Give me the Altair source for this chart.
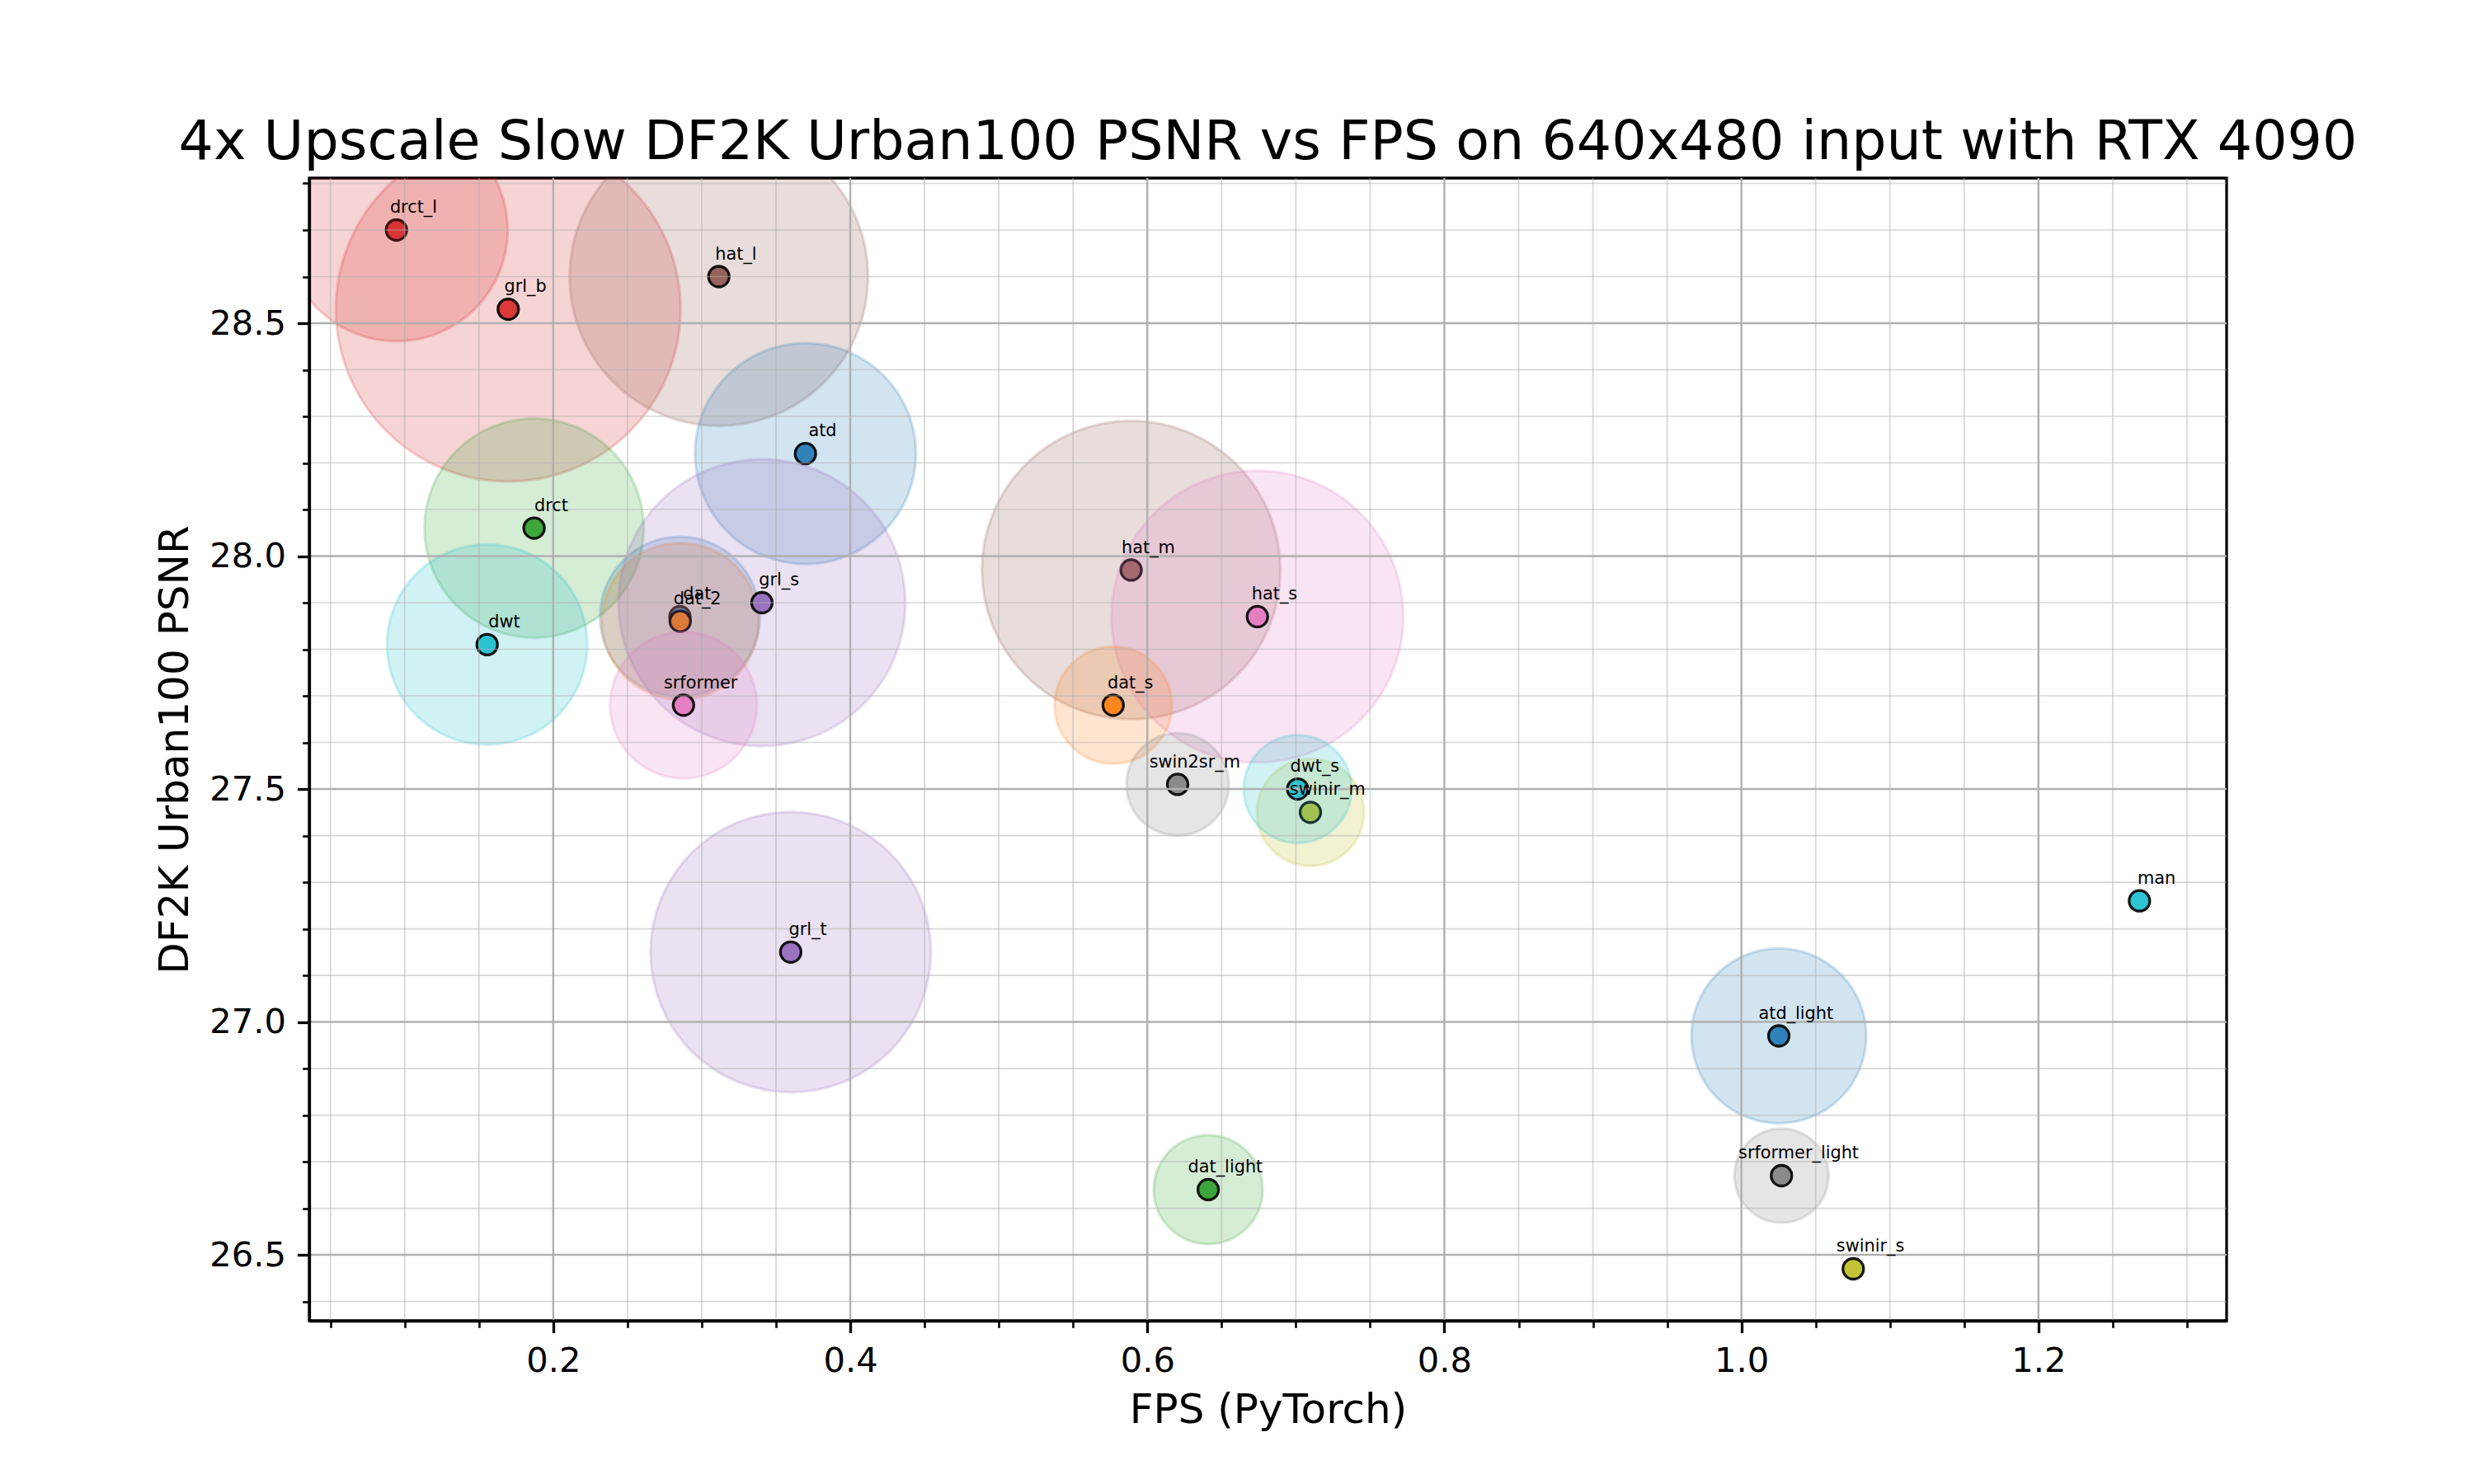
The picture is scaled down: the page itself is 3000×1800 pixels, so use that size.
import altair as alt
import pandas as pd

# Models, throughput (FPS, PyTorch) and DF2K-trained Urban100 PSNR (dB)
models = ["drct_l", "grl_b", "hat_l", "atd", "drct", "dwt", "dat", "dat_2", "grl_s",
          "srformer", "hat_m", "hat_s", "dat_s", "swin2sr_m", "swinir_m", "dwt_s",
          "grl_t", "man", "atd_light", "dat_light", "srformer_light", "swinir_s"]
fps = [0.0944, 0.1697, 0.3115, 0.3698, 0.1871, 0.1555, 0.2853, 0.2855, 0.3405,
       0.2877, 0.5891, 0.6741, 0.5770, 0.6204, 0.7098, 0.7012,
       0.3599, 1.2680, 1.0252, 0.6410, 1.0270, 1.0753]
psnr = [28.70, 28.53, 28.60, 28.22, 28.06, 27.81, 27.87, 27.86, 27.90,
        27.68, 27.97, 27.87, 27.68, 27.51, 27.45, 27.50,
        27.15, 27.26, 26.97, 26.64, 26.67, 26.47]
# bubble area (pt^2) drawn around each model
bubble = [4199, 10064, 7548, 4137, 4076, 3401, 2168, 2079, 6975,
          1825, 7548, 7218, 1161, 886, 973, 988,
          6659, 0, 2589, 1004, 749, 0]

# tick positions
major_x = [0.2, 0.4, 0.6, 0.8, 1.0, 1.2]
minor_x = [0.05, 0.10, 0.15, 0.25, 0.30, 0.35, 0.45, 0.50, 0.55, 0.65, 0.70, 0.75,
           0.85, 0.90, 0.95, 1.05, 1.10, 1.15, 1.25, 1.30]
major_y = [26.5, 27.0, 27.5, 28.0, 28.5]
minor_y = [26.4, 26.6, 26.7, 26.8, 26.9, 27.1, 27.2, 27.3, 27.4, 27.6, 27.7, 27.8, 27.9,
           28.1, 28.2, 28.3, 28.4, 28.6, 28.7, 28.8]

TAB = {"blue": "#1f77b4", "orange": "#ff7f0e", "green": "#2ca02c", "red": "#d62728",
       "purple": "#9467bd", "brown": "#8c564b", "pink": "#e377c2", "gray": "#7f7f7f",
       "olive": "#bcbd22", "cyan": "#17becf"}
model_colors = [TAB[c] for c in [
    "red", "red", "brown", "blue", "green", "cyan", "blue", "orange", "purple",
    "pink", "brown", "pink", "orange", "gray", "olive", "cyan",
    "purple", "cyan", "blue", "green", "gray", "olive"]]

FONT = "DejaVu Sans"
PT = 300 / 72  # pixels per point

# each model contributes a translucent bubble followed by its centre dot
rows = []
for i, m in enumerate(models):
    for k, kind in enumerate(["bubble", "dot"]):
        rows.append({"model": m, "fps": fps[i], "psnr": psnr[i], "bubble": bubble[i],
                     "kind": kind, "z": 2 * i + k})
df = pd.DataFrame(rows)
df_models = pd.DataFrame({"model": models, "fps": fps, "psnr": psnr})


def padded(vals, frac=0.05):
    lo, hi = min(vals), max(vals)
    span = hi - lo
    return [lo - frac * span, hi + frac * span]


xs = alt.Scale(domain=padded(fps), nice=False, zero=False)
ys = alt.Scale(domain=padded(psnr), nice=False, zero=False)
color_scale = alt.Scale(domain=models, range=model_colors)
size_scale = alt.Scale(type="linear", domain=[0, 10000], range=[0, 10000 * PT * PT], zero=True)

axis_common = dict(
    grid=False, domain=True, domainColor="black", domainWidth=3.3,
    ticks=True, tickSize=14.6, tickWidth=3.3, tickColor="black",
    labelFont=FONT, labelFontSize=41.67, labelColor="black", labelOverlap=False,
    labelFlush=False, format=".1f",
    titleFont=FONT, titleFontSize=50, titleFontWeight="normal", titleColor="black",
    zindex=1,
)
main_x_axis = alt.Axis(values=major_x, orient="bottom", labelPadding=14,
                       title="FPS (PyTorch)", titlePadding=13, **axis_common)
main_y_axis = alt.Axis(values=major_y, orient="left", labelPadding=14,
                       title="DF2K Urban100 PSNR", titlePadding=16, **axis_common)

minor_common = dict(grid=False, domain=False, labels=False, ticks=True, tickSize=8.3,
                    tickWidth=2.6, tickColor="black", title=None, zindex=1)
minor_x_axis = alt.Axis(values=minor_x, orient="bottom", **minor_common)
minor_y_axis = alt.Axis(values=minor_y, orient="left", **minor_common)

is_dot = "datum.kind == 'dot'"

scatter = alt.Chart(df).mark_circle(clip=True, opacity=1, strokeWidth=3.3).encode(
    x=alt.X("fps:Q", scale=xs, axis=main_x_axis),
    y=alt.Y("psnr:Q", scale=ys, axis=main_y_axis),
    size=alt.condition(is_dot, alt.value(625),
                       alt.Size("bubble:Q", scale=size_scale, legend=None)),
    fill=alt.Fill("model:N", scale=color_scale, legend=None),
    stroke=alt.condition(is_dot, alt.value("black"),
                         alt.Stroke("model:N", scale=color_scale, legend=None)),
    fillOpacity=alt.condition(is_dot, alt.value(0.9), alt.value(0.2)),
    strokeOpacity=alt.condition(is_dot, alt.value(0.9), alt.value(0.2)),
    order=alt.Order("z:Q"),
)

minor_vx = alt.Chart(pd.DataFrame({"v": minor_x})).mark_rule(
    color="#b0b0b0", opacity=0.5, strokeWidth=1.7
).encode(x=alt.X("v:Q", scale=xs, axis=minor_x_axis))
minor_hy = alt.Chart(pd.DataFrame({"v": minor_y})).mark_rule(
    color="#b0b0b0", opacity=0.5, strokeWidth=1.7
).encode(y=alt.Y("v:Q", scale=ys, axis=minor_y_axis))
major_vx = alt.Chart(pd.DataFrame({"v": major_x})).mark_rule(
    color="#b0b0b0", opacity=1, strokeWidth=2.4
).encode(x=alt.X("v:Q", scale=xs, axis=None))
major_hy = alt.Chart(pd.DataFrame({"v": major_y})).mark_rule(
    color="#b0b0b0", opacity=1, strokeWidth=2.4
).encode(y=alt.Y("v:Q", scale=ys, axis=None))

labels = alt.Chart(df_models).mark_text(
    align="center", baseline="alphabetic", dx=20.8, dy=-20.8,
    font=FONT, fontSize=20.83, color="black"
).encode(
    x=alt.X("fps:Q", scale=xs, axis=None),
    y=alt.Y("psnr:Q", scale=ys, axis=None),
    text="model:N",
)

chart = alt.layer(
    scatter, minor_vx, minor_hy, major_vx, major_hy, labels
).resolve_axis(
    x="independent", y="independent"
).properties(
    width=2325, height=1386,
    autosize=alt.AutoSizeParams(type="none"),
    padding={"left": 375, "top": 216, "right": 300, "bottom": 198},
    background="white",
    title=alt.TitleParams(
        "4x Upscale Slow DF2K Urban100 PSNR vs FPS on 640x480 input with RTX 4090",
        font=FONT, fontSize=66.67, fontWeight="normal", color="black",
        anchor="middle", frame="group", offset=25, dy=70, baseline="alphabetic",
    ),
).configure_view(stroke="black", strokeWidth=3.3)

chart.save("out.html", embed_options={"renderer": "svg", "actions": False})
